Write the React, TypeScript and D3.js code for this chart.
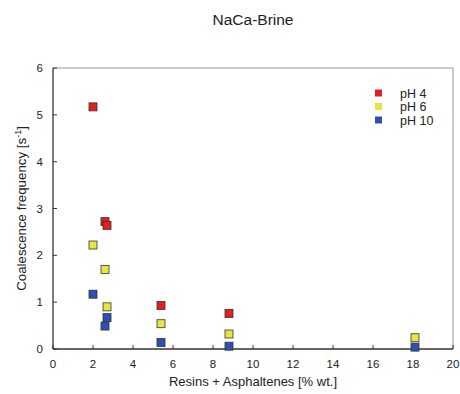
import React from "react"
import * as d3 from "d3"

const seriesNames = ["pH 4", "pH 6", "pH 10"]
const seriesColors = ["#e41e1e", "#e6e642", "#2f4fb4"]
const xPh4 = [2.0, 2.6, 2.7, 5.4, 8.8]
const yPh4 = [5.17, 2.72, 2.64, 0.93, 0.76]
const xPh6 = [2.0, 2.6, 2.7, 5.4, 8.8, 18.1]
const yPh6 = [2.22, 1.7, 0.9, 0.54, 0.32, 0.24]
const xPh10 = [2.0, 2.6, 2.7, 5.4, 8.8, 18.1]
const yPh10 = [1.17, 0.49, 0.67, 0.14, 0.06, 0.04]
const xTicks = [0, 2, 4, 6, 8, 10, 12, 14, 16, 18, 20]
const yTicks = [0, 1, 2, 3, 4, 5, 6]

const width = 460
const height = 394
const margin = { top: 68, right: 7, bottom: 45, left: 53 }
const font = "Liberation Sans, Arial, sans-serif"

export default function App() {
  const x = d3.scaleLinear().domain([0, 20]).range([margin.left, width - margin.right])
  const y = d3.scaleLinear().domain([0, 6]).range([height - margin.bottom, margin.top])

  const series = [
    { xs: xPh4, ys: yPh4 },
    { xs: xPh6, ys: yPh6 },
    { xs: xPh10, ys: yPh10 },
  ]
  const s = 8
  const x0 = x(0), x1 = x(20), y0 = y(0), y1 = y(6)
  const cx = (x0 + x1) / 2

  return (
    <svg width={width} height={height} style={{ position: "absolute", left: 0, top: 0 }} fontFamily={font}>
      <rect width={width} height={height} fill="#fff" />
      <text x={cx} y={25} textAnchor="middle" fontSize={15.5} fill="#222">NaCa-Brine</text>

      {/* frame */}
      <line x1={x0} x2={x1} y1={y1} y2={y1} stroke="#999" strokeWidth={1} />
      <line x1={x1} x2={x1} y1={y1} y2={y0} stroke="#999" strokeWidth={1} />
      <line x1={x0} x2={x1} y1={y0} y2={y0} stroke="#333" strokeWidth={1.3} />
      <line x1={x0} x2={x0} y1={y1} y2={y0} stroke="#333" strokeWidth={1.3} />

      {xTicks.map(t => (
        <g key={"x" + t}>
          <line x1={x(t)} x2={x(t)} y1={y0} y2={y0 - 4} stroke="#333" />
          <text x={x(t)} y={y0 + 19} textAnchor="middle" fontSize={11.5} fill="#222">{t}</text>
        </g>
      ))}
      {yTicks.map(t => (
        <g key={"y" + t}>
          <line x1={x0} x2={x0 + 4} y1={y(t)} y2={y(t)} stroke="#333" />
          <text x={x0 - 10} y={y(t) + 4} textAnchor="end" fontSize={11.5} fill="#222">{t}</text>
        </g>
      ))}

      <text x={cx} y={386} textAnchor="middle" fontSize={13} fill="#222">Resins + Asphaltenes [% wt.]</text>
      <text transform={`translate(26,${(y0 + y1) / 2}) rotate(-90)`} textAnchor="middle" fontSize={13.3} fill="#222">
        Coalescence frequency [s<tspan dy={-5} fontSize={9}>-1</tspan><tspan dy={5}>]</tspan>
      </text>

      {series.map((d, i) => (
        <g key={"s" + i}>
          {d.xs.map((v, j) => (
            <rect key={j} x={x(v) - s / 2} y={y(d.ys[j]) - s / 2} width={s} height={s}
              fill={seriesColors[i]} stroke="#333" strokeWidth={0.8} />
          ))}
        </g>
      ))}

      {seriesNames.map((n, i) => (
        <g key={"l" + i}>
          <rect x={375} y={89.5 + i * 13.5} width={7} height={7} fill={seriesColors[i]} />
          <text x={400} y={97.5 + i * 13.5} fontSize={12.5} fill="#222">{n}</text>
        </g>
      ))}
    </svg>
  )
}
